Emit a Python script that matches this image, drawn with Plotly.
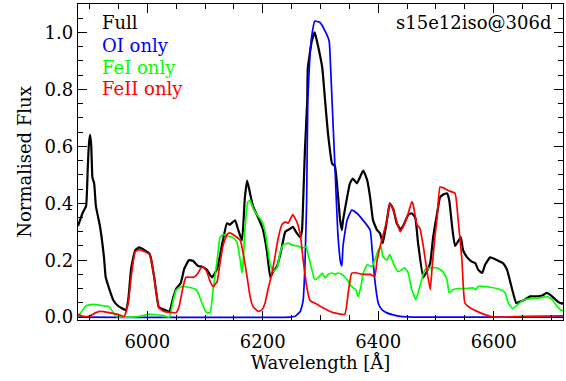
import plotly.graph_objects as go

# Full spectrum
full_wl = [5880, 5885, 5889, 5894, 5897, 5899, 5901, 5903, 5905, 5908, 5911, 5918, 5925, 5928, 5934, 5941, 5949, 5963, 5967, 5972, 5979, 5986, 6003, 6006, 6012, 6020, 6027, 6038, 6045, 6050, 6058, 6064, 6072, 6079, 6088, 6095, 6103, 6112, 6121, 6129, 6138, 6143, 6152, 6157, 6164, 6169, 6173, 6178, 6183, 6192, 6200, 6207, 6213, 6218, 6225, 6232, 6239, 6247, 6252, 6259, 6265, 6268, 6270, 6273, 6277, 6278, 6285, 6290, 6296, 6303, 6308, 6313, 6320, 6325, 6330, 6334, 6337, 6339, 6346, 6351, 6356, 6363, 6368, 6374, 6381, 6386, 6391, 6398, 6403, 6408, 6415, 6420, 6426, 6432, 6438, 6443, 6452, 6458, 6464, 6469, 6478, 6484, 6490, 6495, 6502, 6507, 6512, 6519, 6523, 6528, 6533, 6538, 6543, 6547, 6554, 6562, 6568, 6573, 6580, 6585, 6594, 6606, 6616, 6623, 6632, 6639, 6646, 6654, 6663, 6675, 6684, 6692, 6701, 6710, 6718, 6725]
full_fx = [0.32, 0.35, 0.37, 0.39, 0.53, 0.61, 0.64, 0.60, 0.49, 0.47, 0.39, 0.32, 0.21, 0.14, 0.10, 0.06, 0.04, 0.025, 0.06, 0.17, 0.235, 0.245, 0.225, 0.21, 0.14, 0.035, 0.028, 0.02, 0.07, 0.10, 0.12, 0.17, 0.20, 0.198, 0.18, 0.177, 0.167, 0.14, 0.17, 0.25, 0.33, 0.325, 0.34, 0.31, 0.27, 0.42, 0.48, 0.435, 0.39, 0.35, 0.31, 0.235, 0.14, 0.16, 0.18, 0.235, 0.30, 0.31, 0.317, 0.295, 0.28, 0.306, 0.41, 0.585, 0.76, 0.875, 0.97, 1.0, 0.95, 0.877, 0.76, 0.645, 0.54, 0.53, 0.435, 0.34, 0.306, 0.34, 0.42, 0.47, 0.487, 0.47, 0.49, 0.515, 0.48, 0.42, 0.34, 0.306, 0.295, 0.26, 0.34, 0.40, 0.38, 0.33, 0.31, 0.32, 0.36, 0.365, 0.35, 0.26, 0.14, 0.16, 0.19, 0.28, 0.365, 0.42, 0.43, 0.435, 0.41, 0.317, 0.25, 0.265, 0.28, 0.235, 0.21, 0.195, 0.19, 0.167, 0.155, 0.184, 0.21, 0.20, 0.19, 0.167, 0.097, 0.05, 0.055, 0.062, 0.073, 0.073, 0.076, 0.085, 0.073, 0.056, 0.047, 0.055]

# OI only
oi_wl = [5880, 6247, 6256, 6259, 6265, 6268, 6270, 6273, 6276, 6278, 6282, 6285, 6290, 6299, 6308, 6315, 6317, 6320, 6325, 6330, 6335, 6337, 6339, 6346, 6354, 6363, 6374, 6386, 6389, 6394, 6400, 6406, 6415, 6426, 6438, 6472, 6725]
oi_fx = [0.0, 0.0, 0.003, 0.008, 0.02, 0.04, 0.06, 0.18, 0.41, 0.76, 0.93, 0.99, 1.04, 1.035, 1.005, 0.97, 0.9, 0.76, 0.53, 0.295, 0.19, 0.18, 0.25, 0.34, 0.376, 0.365, 0.34, 0.306, 0.247, 0.132, 0.05, 0.027, 0.015, 0.008, 0.003, 0.0, 0.0]

# FeI only
fei_wl = [5880, 5889, 5894, 5906, 5923, 5934, 5941, 5946, 5963, 5986, 6003, 6027, 6038, 6045, 6050, 6058, 6072, 6084, 6088, 6097, 6103, 6109, 6114, 6121, 6126, 6131, 6140, 6148, 6155, 6161, 6164, 6166, 6169, 6174, 6178, 6183, 6190, 6199, 6204, 6209, 6213, 6218, 6225, 6230, 6235, 6244, 6252, 6261, 6268, 6275, 6278, 6285, 6290, 6296, 6303, 6308, 6313, 6320, 6325, 6330, 6337, 6346, 6354, 6361, 6365, 6370, 6374, 6381, 6389, 6394, 6400, 6405, 6408, 6415, 6420, 6426, 6434, 6441, 6446, 6452, 6458, 6465, 6469, 6476, 6481, 6490, 6502, 6512, 6519, 6523, 6530, 6538, 6550, 6564, 6569, 6573, 6581, 6594, 6611, 6620, 6625, 6633, 6642, 6651, 6663, 6680, 6692, 6701, 6710, 6718, 6725]
fei_fx = [0.003, 0.027, 0.04, 0.045, 0.04, 0.037, 0.016, 0.003, 0.0, 0.003, 0.01, 0.006, 0.0, 0.06, 0.095, 0.107, 0.105, 0.097, 0.085, 0.037, 0.016, 0.016, 0.097, 0.20, 0.28, 0.29, 0.285, 0.28, 0.265, 0.20, 0.155, 0.19, 0.305, 0.405, 0.41, 0.383, 0.36, 0.335, 0.30, 0.236, 0.183, 0.16, 0.175, 0.225, 0.253, 0.26, 0.253, 0.25, 0.243, 0.247, 0.225, 0.167, 0.132, 0.138, 0.155, 0.138, 0.15, 0.155, 0.15, 0.155, 0.15, 0.132, 0.107, 0.097, 0.073, 0.107, 0.155, 0.184, 0.177, 0.20, 0.236, 0.247, 0.213, 0.20, 0.22, 0.19, 0.16, 0.167, 0.173, 0.155, 0.097, 0.062, 0.085, 0.138, 0.167, 0.173, 0.173, 0.16, 0.132, 0.085, 0.097, 0.10, 0.10, 0.103, 0.097, 0.108, 0.108, 0.105, 0.097, 0.085, 0.05, 0.03, 0.045, 0.06, 0.065, 0.068, 0.073, 0.062, 0.037, 0.023, 0.023]

# FeII only
feii_wl = [5880, 5889, 5899, 5911, 5920, 5934, 5949, 5960, 5967, 5972, 5979, 5986, 6003, 6008, 6015, 6020, 6029, 6050, 6055, 6062, 6067, 6079, 6084, 6088, 6093, 6097, 6103, 6109, 6114, 6121, 6126, 6131, 6138, 6143, 6152, 6161, 6166, 6173, 6178, 6183, 6192, 6199, 6204, 6209, 6216, 6221, 6226, 6233, 6239, 6244, 6252, 6259, 6265, 6270, 6277, 6282, 6294, 6304, 6322, 6342, 6348, 6354, 6363, 6374, 6386, 6394, 6398, 6406, 6415, 6420, 6426, 6432, 6438, 6443, 6452, 6458, 6460, 6467, 6472, 6478, 6484, 6490, 6493, 6498, 6502, 6507, 6512, 6521, 6533, 6538, 6545, 6550, 6559, 6576, 6594, 6606, 6651, 6725]
feii_fx = [0.01, 0.003, 0.003, 0.016, 0.02, 0.016, 0.01, 0.003, 0.05, 0.14, 0.23, 0.237, 0.222, 0.19, 0.097, 0.033, 0.02, 0.016, 0.037, 0.107, 0.14, 0.14, 0.145, 0.155, 0.173, 0.177, 0.16, 0.125, 0.107, 0.125, 0.19, 0.25, 0.29, 0.296, 0.285, 0.27, 0.225, 0.14, 0.073, 0.038, 0.02, 0.027, 0.05, 0.097, 0.155, 0.21, 0.27, 0.325, 0.335, 0.33, 0.36, 0.335, 0.29, 0.20, 0.097, 0.058, 0.045, 0.033, 0.016, 0.01, 0.085, 0.155, 0.155, 0.15, 0.15, 0.143, 0.20, 0.27, 0.34, 0.40, 0.376, 0.335, 0.30, 0.317, 0.365, 0.405, 0.40, 0.325, 0.313, 0.25, 0.167, 0.097, 0.167, 0.28, 0.35, 0.457, 0.455, 0.445, 0.435, 0.35, 0.20, 0.05, 0.033, 0.016, 0.003, 0.0, 0.003, 0.005]

series = [
    ("Full", full_wl, full_fx, "black", 2.2),
    ("OI only", oi_wl, oi_fx, "#0000ff", 1.7),
    ("FeI only", fei_wl, fei_fx, "#00ff00", 1.7),
    ("FeII only", feii_wl, feii_fx, "#ff0000", 1.7),
]

FONT = "DejaVu Serif"
fig = go.Figure()
for name, wl, fx, col, w in series:
    fig.add_trace(go.Scatter(x=wl, y=fx, mode="lines", name=name,
                             line=dict(color=col, width=w, shape="spline", smoothing=0.4)))

axis_common = dict(showline=True, linecolor="black", linewidth=1.3, mirror="allticks",
                   ticks="inside", ticklen=9, tickwidth=1.2, tickcolor="black",
                   showgrid=False, zeroline=False,
                   tickfont=dict(family=FONT, size=18, color="black"))
fig.update_xaxes(range=[5880, 6720], dtick=200, tick0=6000, ticklabelstandoff=5,
                 minor=dict(ticks="inside", ticklen=5, dtick=50, tickcolor="black", tickwidth=1.2),
                 title=dict(text="Wavelength [Å]", font=dict(family=FONT, size=18, color="black"), standoff=4),
                 **axis_common)
fig.update_yaxes(range=[-0.01, 1.1], dtick=0.2, tick0=0, tickformat=".1f",
                 minor=dict(ticks="inside", ticklen=5, dtick=0.05, tickcolor="black", tickwidth=1.2),
                 title=dict(text="Normalised Flux", font=dict(family=FONT, size=18, color="black"), standoff=8),
                 **axis_common)

legend_y = [0.943, 0.870, 0.800, 0.732]
for (name, wl, fx, col, w), yy in zip(series, legend_y):
    fig.add_annotation(x=0.045, y=yy, xref="paper", yref="paper", text=name, showarrow=False,
                       xanchor="left", yanchor="middle", font=dict(family=FONT, size=18, color=col))
fig.add_annotation(x=0.98, y=0.943, xref="paper", yref="paper", text="s15e12iso@306d", showarrow=False,
                   xanchor="right", yanchor="middle", font=dict(family=FONT, size=18, color="black"))

fig.update_layout(width=566, height=381, margin=dict(l=78, r=3, t=4, b=61),
                  paper_bgcolor="white", plot_bgcolor="white", showlegend=False)
fig.write_html("out.html")
